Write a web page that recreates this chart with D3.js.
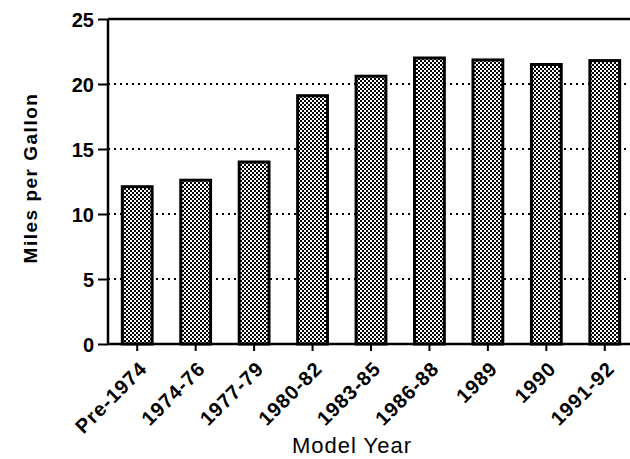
<!DOCTYPE html>
<html>
<head>
<meta charset="utf-8">
<script src="https://cdn.jsdelivr.net/npm/d3@7"></script>
<style>
  body { margin: 0; background: #fff; }
  .chart { width: 630px; height: 459px; }
  text { font-family: "Liberation Sans", Arial, sans-serif; fill: #000; }
</style>
</head>
<body>
<div class="chart"></div>
<script>
// 資料
const years = ['Pre-1974', '1974-76', '1977-79', '1980-82', '1983-85', '1986-88', '1989', '1990', '1991-92']
const mpg = [12.1, 12.6, 14.0, 19.1, 20.6, 22.0, 21.85, 21.5, 21.8]
const yTicks = [0, 5, 10, 15, 20, 25]

function drawBarChart() {
    d3.select('.chart svg').remove()

    const width = 630, height = 459
    const left = 108, right = 634, top = 19, bottom = 344

    const svg = d3.select('.chart')
                  .append('svg')
                  .attr('width', width)
                  .attr('height', height)

    // 網點圖樣
    const pat = svg.append('defs').append('pattern')
        .attr('id', 'dots')
        .attr('patternUnits', 'userSpaceOnUse')
        .attr('width', 4).attr('height', 4)
    pat.append('rect').attr('width', 4).attr('height', 4).attr('fill', '#fff')
    pat.append('rect').attr('x', 0).attr('y', 0).attr('width', 2).attr('height', 2).attr('fill', '#000')
    pat.append('rect').attr('x', 2).attr('y', 2).attr('width', 2).attr('height', 2).attr('fill', '#000')

    const xScale = d3.scaleBand()
        .domain(years)
        .range([left, right])
        .paddingInner(0.49)
        .paddingOuter(0.245)

    const yScale = d3.scaleLinear()
        .domain([0, 25])
        .range([bottom, top])

    // 虛線格線
    svg.append('g')
        .selectAll('line')
        .data(yTicks.filter(d => d > 0 && d < 25))
        .join('line')
        .attr('x1', left).attr('x2', width)
        .attr('y1', d => yScale(d)).attr('y2', d => yScale(d))
        .attr('stroke', '#000')
        .attr('stroke-width', 2)
        .attr('stroke-dasharray', '2,4')

    // 上方框線
    svg.append('line')
        .attr('x1', left).attr('x2', width)
        .attr('y1', yScale(25)).attr('y2', yScale(25))
        .attr('stroke', '#000').attr('stroke-width', 2.5)

    // 長條
    svg.append('g')
        .selectAll('rect')
        .data(mpg)
        .join('rect')
        .attr('x', (d, i) => xScale(years[i]))
        .attr('y', d => yScale(d))
        .attr('width', xScale.bandwidth())
        .attr('height', d => bottom - yScale(d))
        .attr('fill', 'url(#dots)')
        .attr('stroke', '#000')
        .attr('stroke-width', 3)

    // Y 軸
    const yAxis = d3.axisLeft(yScale)
        .tickValues(yTicks)
        .tickSize(10)
        .tickPadding(4)
    const yAxisGroup = svg.append('g')
        .attr('transform', `translate(${left},0)`)
        .call(yAxis)
    yAxisGroup.select('.domain').attr('stroke-width', 2.5).attr('d', `M0,${top}V${bottom}`)
    yAxisGroup.selectAll('.tick line').attr('stroke-width', 2)
    yAxisGroup.selectAll('.tick text')
        .style('font-size', '20px')
        .style('font-weight', 'bold')
        .attr('dy', '0.36em')

    // X 軸
    svg.append('line')
        .attr('x1', left).attr('x2', width)
        .attr('y1', bottom).attr('y2', bottom)
        .attr('stroke', '#000').attr('stroke-width', 2.5)

    const xAxis = d3.axisBottom(xScale).tickSize(7)
    const xAxisGroup = svg.append('g')
        .attr('transform', `translate(0,${bottom})`)
        .call(xAxis)
    xAxisGroup.select('.domain').remove()
    xAxisGroup.selectAll('.tick line').attr('stroke-width', 2)
    xAxisGroup.selectAll('.tick text')
        .style('font-size', '20px')
        .style('font-weight', 'bold')
        .style('letter-spacing', '1px')
        .attr('text-anchor', 'end')
        .attr('y', 0)
        .attr('dy', 0)
        .attr('transform', 'translate(11,26) rotate(-45)')

    // 軸標題
    svg.append('text')
        .attr('x', 352)
        .attr('y', 453)
        .style('font-size', '22px')
        .style('letter-spacing', '1px')
        .style('text-anchor', 'middle')
        .text('Model Year')

    svg.append('text')
        .attr('transform', 'translate(37,178) rotate(-90)')
        .style('font-size', '19px')
        .style('font-weight', 'bold')
        .style('letter-spacing', '1.5px')
        .style('text-anchor', 'middle')
        .text('Miles per Gallon')
}
drawBarChart()
</script>
</body>
</html>
